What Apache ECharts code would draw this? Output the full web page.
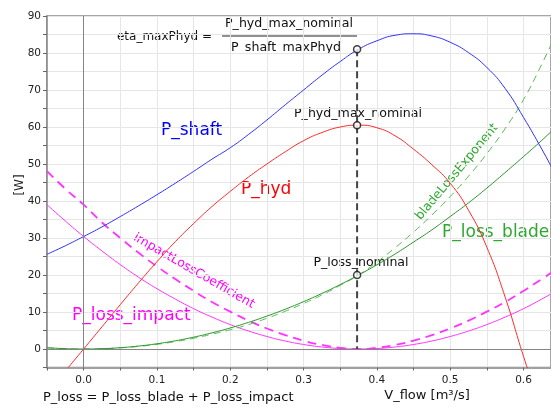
<!DOCTYPE html>
<html>
<head>
<meta charset="utf-8">
<script src="https://cdn.jsdelivr.net/npm/echarts@6/dist/echarts.min.js"></script>
<style>
html,body{margin:0;padding:0;background:#fff;}
#chart{width:551px;height:408px;}
</style>
</head>
<body>
<div id="chart"></div>
<script>
// ---- data ----
const vFlow = [-0.05,-0.025,0,0.025,0.05,0.075,0.1,0.125,0.15,0.175,0.2,0.225,0.25,0.275,0.3,0.325,0.35,0.375,0.4,0.425,0.45,0.475,0.5,0.525,0.55,0.575,0.6,0.625,0.64];
const pShaft = [25.6,27.9,30.4,33.0,35.8,38.7,41.7,44.8,48.0,51.3,54.4,58.0,61.9,66.0,70.0,74.0,77.7,81.0,83.3,84.8,85.2,84.6,82.9,80.1,76.1,70.4,62.6,54.0,48.5];
const pHyd = [-12.2,-6.0,0,6.0,12.0,17.9,23.6,29.0,33.9,38.5,42.6,46.5,50.0,53.3,56.3,58.5,60.0,60.5,59.8,57.6,54.0,49.8,44.8,37.5,27.5,14.0,-2.0,-17.0,-27.0];
const pLossBlade = [0.36,0.09,0,0.09,0.36,0.8,1.42,2.22,3.2,4.36,5.69,7.2,8.89,10.75,12.8,15.02,17.42,20.0,22.75,25.7,28.9,32.2,35.8,39.5,43.5,47.7,52.0,56.4,59.2];
const pLossBladeExp = [0.3,0.08,0,0.06,0.3,0.7,1.25,2.0,2.9,4.0,5.2,6.6,8.3,10.2,12.3,14.6,17.2,20.0,23.5,27.4,31.6,36.2,41.2,46.7,52.8,59.6,67.4,77.0,83.3];
const pLossImpact = [39.0,34.6,30.4,26.5,22.8,19.4,16.3,13.5,10.9,8.64,6.6,4.86,3.38,2.16,1.22,0.54,0.14,0,0.14,0.54,1.22,2.16,3.38,4.86,6.6,8.64,10.9,13.5,15.2];
const pLossImpactCoef = [48.1,43.3,39.0,34.2,30.0,26.0,22.3,18.9,15.7,12.7,10.1,7.66,5.55,3.75,2.25,1.10,0.32,0,0.32,1.10,2.25,3.75,5.55,7.66,10.1,12.7,15.7,18.9,20.9];
const nominalV = 0.373;
const nominalPoints = [81.0, 60.5, 20.0]; // P_shaft_maxPhyd, P_hyd_max_nominal, P_loss_nominal
const xTicks = [-0.05, 0.6375, 0.05];
const yTicks = [-5, 90, 5];

const pairs = arr => vFlow.map((v, i) => [v, arr[i]]);
const FONT = '"DejaVu Sans", Verdana, sans-serif';

const chart = echarts.init(document.getElementById('chart'), null, {renderer: 'canvas'});

function lineSeries(name, data, color, width, dash, z) {
  return {
    name, type: 'line', data: pairs(data), symbol: 'none', smooth: true,
    clip: true, z: z || 2,
    lineStyle: {color, width, type: dash || 'solid'}
  };
}

const option = {
  animation: false,
  backgroundColor: '#fff',
  grid: {left: 47, right: 0, top: 16, bottom: 40.5, show: true, borderColor: '#8a8a8a', borderWidth: 1.5, outerBoundsMode: 'none'},
  xAxis: {
    type: 'value', min: xTicks[0], max: xTicks[1], interval: xTicks[2],
    axisLine: {show: true, onZero: false, lineStyle: {color: '#8a8a8a', width: 1.5}},
    axisTick: {show: true, length: 3, lineStyle: {color: '#666'}},
    axisLabel: {
      margin: 7, fontFamily: FONT, fontSize: 10.5, color: '#222',
      formatter: v => (Math.round(v * 20) % 2 === 0 && v >= 0 && v < 0.63) ? v.toFixed(1) : ''
    },
    splitLine: {show: true, lineStyle: {color: '#e6e6e6', width: 1}}
  },
  yAxis: {
    type: 'value', min: yTicks[0], max: yTicks[1], interval: yTicks[2],
    axisLine: {show: true, onZero: false, lineStyle: {color: '#8a8a8a', width: 1.5}},
    axisTick: {show: true, length: 4, lineStyle: {color: '#666'}},
    axisLabel: {
      margin: 6, fontFamily: FONT, fontSize: 10.5, color: '#222',
      formatter: v => (Math.round(v) % 10 === 0 && v >= 0) ? String(Math.round(v)) : ''
    },
    splitLine: {show: true, lineStyle: {color: '#e6e6e6', width: 1}}
  },
  series: [
    {
      type: 'line', data: [], symbol: 'none', silent: true,
      markLine: {
        silent: true, symbol: 'none', label: {show: false},
        lineStyle: {color: '#858585', width: 1, type: 'solid'},
        data: [{xAxis: 0}, {yAxis: 0}]
      }
    },
    lineSeries('P_loss_impact_coef', pLossImpactCoef, '#ff33ff', 1.8, [9, 6], 3),
    lineSeries('P_loss_impact', pLossImpact, '#ff33ff', 1, null, 3),
    lineSeries('P_loss_blade_exp', pLossBladeExp, '#55bb55', 1, [7, 5], 3),
    lineSeries('P_loss_blade', pLossBlade, '#2a952a', 1, null, 3),
    lineSeries('P_hyd', pHyd, '#ff2a2a', 1, null, 3),
    lineSeries('P_shaft', pShaft, '#3030ff', 1, null, 3),
    {
      type: 'line', symbol: 'none', z: 4,
      data: [[nominalV, nominalPoints[0]], [nominalV, 0]],
      lineStyle: {color: '#444', width: 2, type: [7, 4]}
    },
    {
      type: 'scatter', z: 5, symbol: 'circle', symbolSize: 7,
      data: nominalPoints.map(p => [nominalV, p]),
      itemStyle: {color: '#fff', borderColor: '#111', borderWidth: 1.5}
    }
  ],
  graphic: [
    {type: 'text', x: 212, y: 37, style: {text: 'eta_maxPhyd =', font: '12px ' + FONT, fill: '#111', align: 'right', verticalAlign: 'middle'}},
    {type: 'text', x: 289, y: 24, style: {text: 'P_hyd_max_nominal', font: '12.6px ' + FONT, fill: '#111', align: 'center', verticalAlign: 'middle'}},
    {type: 'line', shape: {x1: 222, y1: 36, x2: 357, y2: 36}, style: {stroke: '#222', lineWidth: 1.2}},
    {type: 'text', x: 286, y: 48, style: {text: 'P_shaft_maxPhyd', font: '12.6px ' + FONT, fill: '#111', align: 'center', verticalAlign: 'middle'}},
    {type: 'text', x: 358, y: 114, style: {text: 'P_hyd_max_nominal', font: '12.6px ' + FONT, fill: '#111', align: 'center', verticalAlign: 'middle'}},
    {type: 'text', x: 361, y: 263, style: {text: 'P_loss_nominal', font: '12.6px ' + FONT, fill: '#111', align: 'center', verticalAlign: 'middle'}},
    {type: 'text', x: 161, y: 131, style: {text: 'P_shaft', font: '17px ' + FONT, fill: '#0000ff', verticalAlign: 'middle'}},
    {type: 'text', x: 241, y: 190, style: {text: 'P_hyd', font: '17px ' + FONT, fill: '#ff0000', verticalAlign: 'middle'}},
    {type: 'text', x: 442, y: 233, style: {text: 'P_loss_blade', font: '17px ' + FONT, fill: '#2ea82e', verticalAlign: 'middle'}},
    {type: 'text', x: 72, y: 316, style: {text: 'P_loss_impact', font: '17px ' + FONT, fill: '#ff00ff', verticalAlign: 'middle'}},
    {type: 'text', x: 194, y: 271, rotation: -30 * Math.PI / 180,
     style: {text: 'impactLossCoefficient', font: '12.5px ' + FONT, fill: '#ff00ff', align: 'center', verticalAlign: 'middle'}},
    {type: 'text', x: 457, y: 172, rotation: 50 * Math.PI / 180,
     style: {text: 'bladeLossExponent', font: '12.5px ' + FONT, fill: '#2ea82e', align: 'center', verticalAlign: 'middle'}},
    {type: 'text', x: 20, y: 185, rotation: Math.PI / 2,
     style: {text: '[W]', font: '12px ' + FONT, fill: '#222', align: 'center', verticalAlign: 'middle'}},
    {type: 'text', x: 427, y: 396, style: {text: 'V_flow [m³/s]', font: '13px ' + FONT, fill: '#111', align: 'center', verticalAlign: 'middle'}},
    {type: 'text', x: 43, y: 398, style: {text: 'P_loss = P_loss_blade + P_loss_impact', font: '13px ' + FONT, fill: '#111', verticalAlign: 'middle'}}
  ]
};
chart.setOption(option);
</script>
</body>
</html>
